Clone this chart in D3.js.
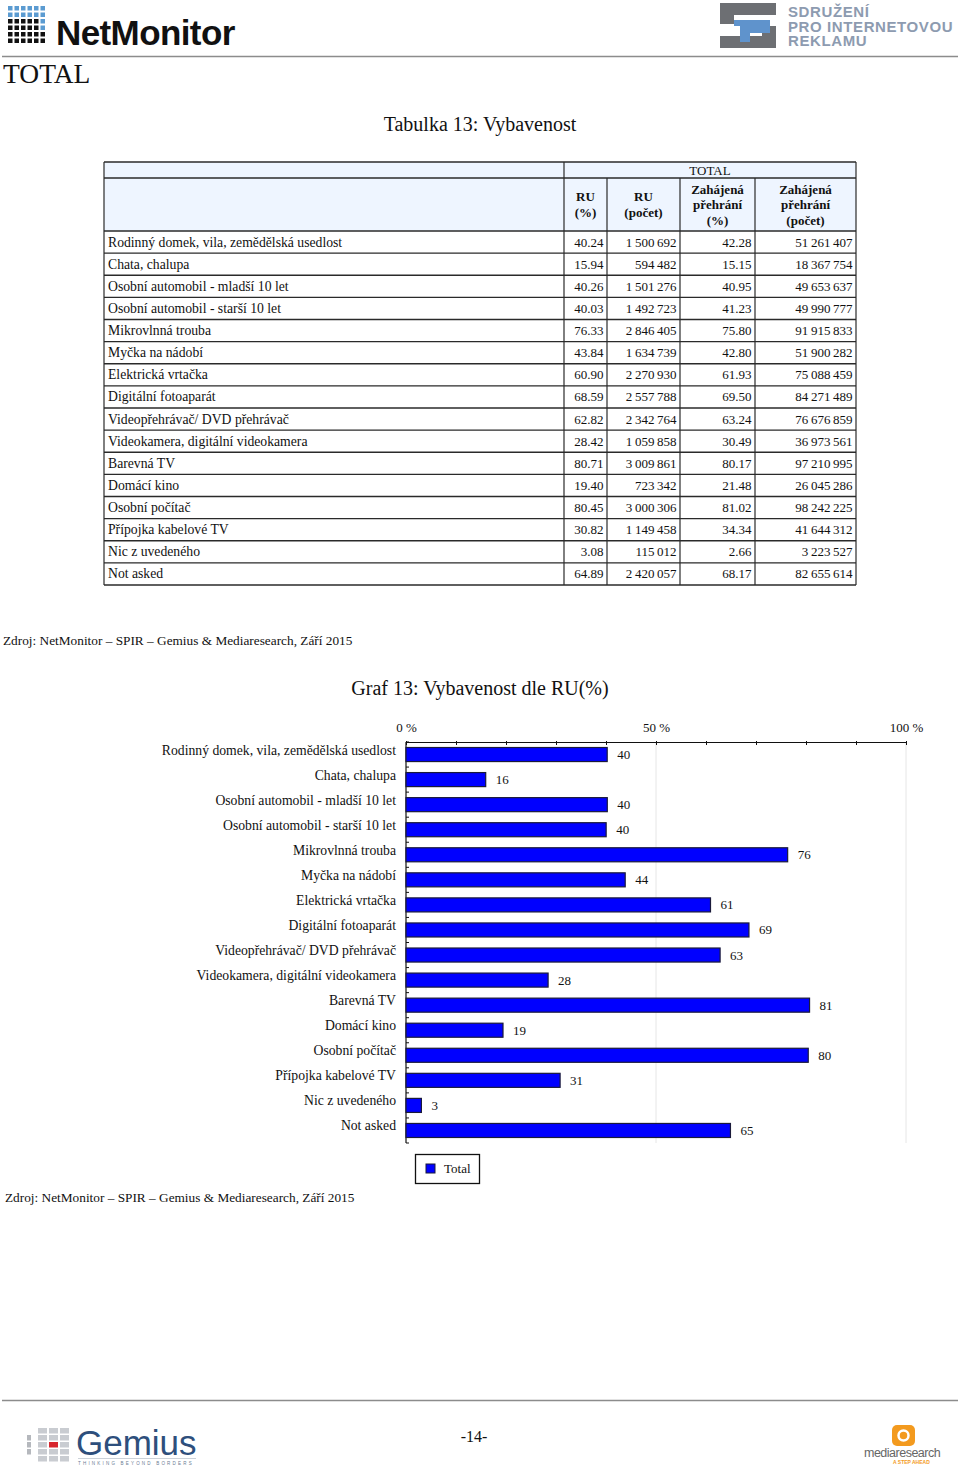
<!DOCTYPE html>
<html>
<head>
<meta charset="utf-8">
<script src="https://cdn.jsdelivr.net/npm/d3@7"></script>
<style>
  body { margin: 0; background: #fff; }
  svg { display: block; }
  text { font-family: "Liberation Serif", "DejaVu Serif", serif; fill: #111; }
  .sans { font-family: "Liberation Sans", Arial, sans-serif; }
</style>
</head>
<body>
<svg id="page"></svg>
<script>
// Data
var categories = [
  "Rodinný domek, vila, zemědělská usedlost",
  "Chata, chalupa",
  "Osobní automobil - mladší 10 let",
  "Osobní automobil - starší 10 let",
  "Mikrovlnná trouba",
  "Myčka na nádobí",
  "Elektrická vrtačka",
  "Digitální fotoaparát",
  "Videopřehrávač/ DVD přehrávač",
  "Videokamera, digitální videokamera",
  "Barevná TV",
  "Domácí kino",
  "Osobní počítač",
  "Přípojka kabelové TV",
  "Nic z uvedeného",
  "Not asked"
];
var ruPct = [40.24, 15.94, 40.26, 40.03, 76.33, 43.84, 60.90, 68.59, 62.82, 28.42, 80.71, 19.40, 80.45, 30.82, 3.08, 64.89];
var ruCount = [1500692, 594482, 1501276, 1492723, 2846405, 1634739, 2270930, 2557788, 2342764, 1059858, 3009861, 723342, 3000306, 1149458, 115012, 2420057];
var zahPct = [42.28, 15.15, 40.95, 41.23, 75.80, 42.80, 61.93, 69.50, 63.24, 30.49, 80.17, 21.48, 81.02, 34.34, 2.66, 68.17];
var zahCount = [51261407, 18367754, 49653637, 49990777, 91915833, 51900282, 75088459, 84271489, 76676859, 36973561, 97210995, 26045286, 98242225, 41644312, 3223527, 82655614];
var headerLines = [["RU", "(%)"], ["RU", "(počet)"], ["Zahájená", "přehrání", "(%)"], ["Zahájená", "přehrání", "(počet)"]];
var axisTicks = [0, 10, 20, 30, 40, 50, 60, 70, 80, 90, 100];
var axisLabels = [0, 50, 100];

var W = 960, H = 1471;
var svg = d3.select("#page").attr("width", W).attr("height", H);

// number formats
var fmtPct = d3.format(".2f");
var fmtInt = function (v) { return d3.format(",")(v).replace(/,/g, "\u2009"); };

// ---------- page header ----------
var logo = svg.append("g");
// NetMonitor icon
for (var r = 0; r < 6; r++) {
  for (var c = 0; c < 6; c++) {
    logo.append("rect")
      .attr("x", 8 + c * 6.5).attr("y", 6 + r * 6.5)
      .attr("width", 4.5).attr("height", 4.5)
      .attr("fill", r < 2 ? "#5b9bd1" : (c == 5 && r < 4 ? "#5b9bd1" : "#111"));
  }
}
logo.append("text").attr("class", "sans")
  .attr("x", 56).attr("y", 45)
  .attr("font-size", 35).attr("font-weight", "bold")
  .attr("letter-spacing", -0.6)
  .text("NetMonitor");

// SPIR logo
var sp = svg.append("g");
sp.append("path").attr("fill", "#6d6f73")
  .attr("d", "M720,3 H776 V15 H734 V24 H720 Z M720,36 H762 V26 H776 V48 H720 Z");
sp.append("path").attr("fill", "#5f93cc")
  .attr("d", "M734,20 H770 V33 H750 V42 H740 V26 H734 Z");
["SDRUŽENÍ", "PRO INTERNETOVOU", "REKLAMU"].forEach(function (t, i) {
  sp.append("text").attr("class", "sans")
    .attr("x", 788).attr("y", 17 + i * 14.5)
    .attr("font-size", 15).attr("font-weight", "bold")
    .attr("letter-spacing", 0.6)
    .style("fill", "#8d9bb0")
    .text(t);
});

svg.append("line").attr("x1", 2).attr("x2", 958).attr("y1", 56.5).attr("y2", 56.5)
  .attr("stroke", "#8c8c8c").attr("stroke-width", 1.5);

svg.append("text").attr("x", 3).attr("y", 83).attr("font-size", 27.5).text("TOTAL");

// ---------- table ----------
svg.append("text").attr("x", 480).attr("y", 131)
  .attr("text-anchor", "middle").attr("font-size", 20)
  .text("Tabulka 13: Vybavenost");

var colX = [104, 564, 607, 680, 755, 856];
var tTop = 162, tMid = 178, tHead = 231, tBottom = 585;
var rowY = d3.scaleBand().domain(categories).range([tHead, tBottom]);

var tbl = svg.append("g");
tbl.append("rect").attr("x", colX[0]).attr("y", tTop)
  .attr("width", colX[5] - colX[0]).attr("height", tHead - tTop)
  .attr("fill", "#eef5ff");

var lineC = "#2a2a2a";
function hline(y, x1, x2) {
  tbl.append("line").attr("x1", x1).attr("x2", x2).attr("y1", y).attr("y2", y)
    .attr("stroke", lineC).attr("stroke-width", 1.3);
}
function vline(x, y1, y2) {
  tbl.append("line").attr("x1", x).attr("x2", x).attr("y1", y1).attr("y2", y2)
    .attr("stroke", lineC).attr("stroke-width", 1.2);
}
hline(tTop, colX[0], colX[5]);
hline(tMid, colX[0], colX[5]);
hline(tHead, colX[0], colX[5]);
categories.forEach(function (d) { hline(rowY(d) + rowY.bandwidth(), colX[0], colX[5]); });
vline(colX[0], tTop, tBottom);
vline(colX[1], tTop, tBottom);
vline(colX[5], tTop, tBottom);
[2, 3, 4].forEach(function (i) { vline(colX[i], tMid, tBottom); });

tbl.append("text").attr("x", (colX[1] + colX[5]) / 2).attr("y", tMid - 3.5)
  .attr("text-anchor", "middle").attr("font-size", 13).text("TOTAL");

headerLines.forEach(function (lines, i) {
  var cx = (colX[i + 1] + colX[i + 2]) / 2;
  var lh = 15.5;
  var y0 = (tMid + tHead) / 2 - (lines.length - 1) * lh / 2 + 4.5;
  lines.forEach(function (t, j) {
    tbl.append("text").attr("x", cx).attr("y", y0 + j * lh)
      .attr("text-anchor", "middle").attr("font-size", 13)
      .attr("font-weight", "bold").text(t);
  });
});

var rows = tbl.selectAll(".row").data(categories).enter().append("g")
  .attr("class", "row")
  .attr("transform", function (d) { return "translate(0," + (rowY(d) + rowY.bandwidth() / 2 + 4.5) + ")"; });
rows.append("text").attr("x", colX[0] + 4).attr("font-size", 13.7).text(function (d) { return d; });
var cols = [
  function (i) { return fmtPct(ruPct[i]); },
  function (i) { return fmtInt(ruCount[i]); },
  function (i) { return fmtPct(zahPct[i]); },
  function (i) { return fmtInt(zahCount[i]); }
];
cols.forEach(function (f, k) {
  rows.append("text").attr("x", colX[k + 2] - 3.5)
    .attr("text-anchor", "end").attr("font-size", 13)
    .text(function (d, i) { return f(i); });
});

var source = "Zdroj: NetMonitor \u2013 SPIR \u2013 Gemius & Mediaresearch, Září 2015";
svg.append("text").attr("x", 3).attr("y", 645).attr("font-size", 13.3).text(source);

// ---------- bar chart ----------
svg.append("text").attr("x", 480).attr("y", 695)
  .attr("text-anchor", "middle").attr("font-size", 20)
  .text("Graf 13: Vybavenost dle RU(%)");

var x = d3.scaleLinear().domain([0, 100]).range([406, 906]);
var y = d3.scaleBand().domain(categories).range([742, 1143])
  .paddingInner(0.44).paddingOuter(0.22);

var chart = svg.append("g");

// grid lines
chart.selectAll(".grid").data([50, 100]).enter().append("line")
  .attr("x1", function (d) { return x(d); }).attr("x2", function (d) { return x(d); })
  .attr("y1", 742).attr("y2", 1143)
  .attr("stroke", "#e6e6e6").attr("stroke-width", 1);

// top axis
var xAxis = d3.axisTop(x).tickValues(axisTicks)
  .tickSizeInner(-3).tickSizeOuter(0).tickPadding(10)
  .tickFormat(function (d) { return axisLabels.indexOf(d) >= 0 ? d + " %" : ""; });
var gx = chart.append("g").attr("transform", "translate(0,742)").call(xAxis);
gx.select(".domain").attr("stroke", "#111");
gx.selectAll(".tick line").attr("stroke", "#111").attr("y1", -1).attr("y2", 3);
gx.selectAll(".tick text").attr("font-family", "Liberation Serif, serif")
  .attr("font-size", 13).attr("fill", "#111");

// left axis line with band ticks
chart.append("line").attr("x1", x(0)).attr("x2", x(0)).attr("y1", 742).attr("y2", 1143)
  .attr("stroke", "#111").attr("stroke-width", 1.2);
chart.selectAll(".btick").data(categories.concat(["end"])).enter().append("line")
  .attr("x1", x(0)).attr("x2", x(0) + 3)
  .attr("y1", function (d, i) { return 742 + i * y.step(); })
  .attr("y2", function (d, i) { return 742 + i * y.step(); })
  .attr("stroke", "#111");

// bars
chart.selectAll(".bar").data(categories).enter().append("rect")
  .attr("x", x(0))
  .attr("y", function (d) { return y(d); })
  .attr("width", function (d, i) { return x(ruPct[i]) - x(0); })
  .attr("height", y.bandwidth())
  .attr("fill", "#0000ff").attr("stroke", "#1a1a3a").attr("stroke-width", 1.2);

// value labels
chart.selectAll(".val").data(categories).enter().append("text")
  .attr("x", function (d, i) { return x(ruPct[i]) + 10; })
  .attr("y", function (d) { return y(d) + y.bandwidth() / 2 + 4.5; })
  .attr("font-size", 13)
  .text(function (d, i) { return Math.round(ruPct[i]); });

// category labels
chart.selectAll(".cat").data(categories).enter().append("text")
  .attr("x", 396)
  .attr("y", function (d) { return y(d) + y.bandwidth() / 2 + 0; })
  .attr("text-anchor", "end").attr("font-size", 13.7)
  .text(function (d) { return d; });

// legend
var lg = svg.append("g");
lg.append("rect").attr("x", 415.5).attr("y", 1154.5).attr("width", 64).attr("height", 29)
  .attr("fill", "#fff").attr("stroke", "#111").attr("stroke-width", 1.3);
lg.append("rect").attr("x", 426).attr("y", 1164).attr("width", 9).attr("height", 9)
  .attr("fill", "#0000ff").attr("stroke", "#1a1a3a");
lg.append("text").attr("x", 444).attr("y", 1173).attr("font-size", 13).text("Total");

svg.append("text").attr("x", 5).attr("y", 1202).attr("font-size", 13.3).text(source);

// ---------- page footer ----------
svg.append("line").attr("x1", 2).attr("x2", 958).attr("y1", 1400.5).attr("y2", 1400.5)
  .attr("stroke", "#8c8c8c").attr("stroke-width", 1.5);

var gm = svg.append("g");
var gmGrid = [[0, 1, 1, 1], [1, 1, 1, 1], [1, 1, 2, 1], [1, 1, 1, 1], [0, 1, 1, 1]];
gmGrid.forEach(function (row, ri) {
  row.forEach(function (v, ci) {
    if (!v) return;
    gm.append("rect")
      .attr("x", 27 + ci * 11).attr("y", 1428 + ri * 7)
      .attr("width", ci == 0 ? 4 : 9).attr("height", 5.5)
      .attr("fill", v == 2 ? "#d7262e" : (ci == 0 ? "#b5b8bd" : "#c9ccd1"));
  });
});
gm.append("text").attr("class", "sans").attr("x", 76).attr("y", 1455)
  .attr("font-size", 35).style("fill", "#2e4f7c").attr("letter-spacing", 0)
  .text("Gemius");
gm.append("line").attr("x1", 78).attr("x2", 196).attr("y1", 1458.5).attr("y2", 1458.5)
  .attr("stroke", "#aab3c0").attr("stroke-width", 0.6);
gm.append("text").attr("class", "sans").attr("x", 78).attr("y", 1465)
  .attr("font-size", 4.5).attr("letter-spacing", 2.2).style("fill", "#6b7c93")
  .text("THINKING BEYOND BORDERS");

svg.append("text").attr("x", 474).attr("y", 1442).attr("text-anchor", "middle")
  .attr("font-size", 16).text("-14-");

var mr = svg.append("g");
mr.append("rect").attr("x", 892).attr("y", 1425).attr("width", 23).attr("height", 21).attr("rx", 5)
  .attr("fill", "#f39a1e");
mr.append("circle").attr("cx", 903.5).attr("cy", 1435.5).attr("r", 5)
  .attr("fill", "none").attr("stroke", "#fff").attr("stroke-width", 2.5);
mr.append("text").attr("class", "sans").attr("x", 864).attr("y", 1457)
  .attr("font-size", 12.5).style("fill", "#666").attr("letter-spacing", -0.5)
  .text("mediaresearch");
mr.append("text").attr("class", "sans").attr("x", 893).attr("y", 1464)
  .attr("font-size", 5).attr("font-weight", "bold").style("fill", "#f39a1e")
  .text("A STEP AHEAD");
</script>
</body>
</html>
